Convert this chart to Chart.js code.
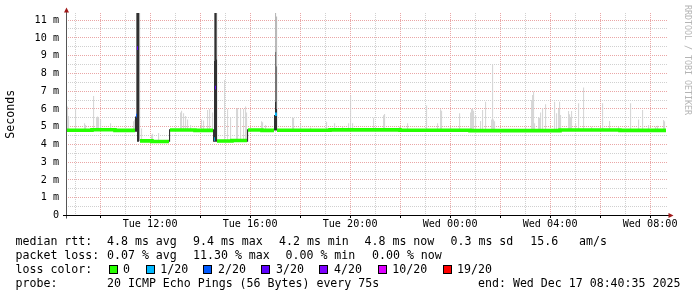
<!DOCTYPE html>
<html>
<head>
<meta charset="utf-8">
<title>SmokePing</title>
<script src="https://cdn.jsdelivr.net/npm/chart.js@4.4.1/dist/chart.umd.min.js"></script>
<style>
	html, body { margin: 0; padding: 0; background: #fff; }
	#wrap { position: relative; width: 697px; height: 297px; overflow: hidden; font-family: "DejaVu Sans Mono", monospace; }
	#chart { position: absolute; left: 0; top: 0; }
	.t { position: absolute; font-size: 11.6px; line-height: 14px; white-space: pre; color: #000; }
	.sw { position: absolute; width: 9px; height: 9px; box-sizing: border-box; border: 1px solid #000; }
	#mark { position: absolute; left: 682.5px; top: 5px; writing-mode: vertical-rl; font-size: 8.3px; color: #b4b4b4; white-space: pre; }
</style>
</head>
<body>
<div id="wrap">
	<canvas id="chart" width="697" height="297"></canvas>
	<div id="legend"></div>
	<div id="mark">RRDTOOL / TOBI OETIKER</div>
</div>
<script>
// time axis in hours since Tue 00:00
const startHour = 8 + 40 / 60 + 35 / 3600;
const endHour = startHour + 24;
const yMax = 11.4;

const xTickHours = [12, 16, 20, 24, 28, 32];
const xTickLabels = ["Tue 12:00", "Tue 16:00", "Tue 20:00", "Wed 00:00", "Wed 04:00", "Wed 08:00"];
const yTickLabels = ["0", "1 m", "2 m", "3 m", "4 m", "5 m", "6 m", "7 m", "8 m", "9 m", "10 m", "11 m"];

const lossLabels = ["0", "1/20", "2/20", "3/20", "4/20", "10/20", "19/20"];
const lossColors = ["#26ff00", "#00b8ff", "#0059ff", "#5e00ff", "#7e00ff", "#dd00ff", "#ff0000"];

// median rtt (ms), one flat piece per entry
const medianStart = [8.676, 9.676, 10.596, 11.436, 11.476, 11.596, 12.076, 12.796, 13.796, 14.556, 14.596,
	14.676, 15.276, 15.916, 16.476, 16.996, 17.076, 19.196, 21.996, 24.796, 28.396, 30.796];
const medianEnd = [9.676, 10.596, 11.396, 11.470, 11.516, 12.076, 12.756, 13.796, 14.516, 14.590, 14.636,
	15.276, 15.876, 16.476, 16.956, 17.070, 19.196, 21.996, 24.796, 28.396, 30.796, 32.636];
const medianMs = [4.80, 4.83, 4.79, 5.62, 9.42, 4.20, 4.17, 4.81, 4.79, 4.30, 7.20,
	4.19, 4.22, 4.81, 4.79, 5.70, 4.80, 4.82, 4.80, 4.78, 4.81, 4.79];
const medianLoss = [0, 0, 0, 2, 3, 0, 0, 0, 0, 1, 3,
	0, 0, 0, 0, 1, 0, 0, 0, 0, 0, 0];

// light smoke: top of the ping spread above the median
const lightHours = [8.70, 8.74, 9.02, 9.38, 9.42, 9.74, 9.86, 9.90, 9.94, 10.02, 10.42, 11.34, 11.38,
	11.66, 12.06, 12.10, 12.34,
	13.22, 13.26, 13.34, 13.42, 13.50, 13.62, 14.06, 14.14, 14.30, 14.38, 14.50,
	14.98, 15.10, 15.22, 15.46, 15.50, 15.62, 15.74, 15.82, 15.86,
	16.46, 16.50, 16.62,
	17.70, 17.74, 18.02, 18.42, 19.06, 19.38, 19.70, 19.94, 20.02, 20.10, 20.94, 21.34, 21.38, 21.98,
	22.30, 23.06, 23.50, 23.62, 23.66, 24.02, 24.38, 24.82, 24.86, 24.90, 24.94, 25.02, 25.22, 25.30,
	25.42, 25.66, 25.70, 25.74, 25.78, 27.02, 27.26, 27.30, 27.34, 27.38, 27.54, 27.58, 27.62, 27.70,
	27.82, 28.18, 28.26, 28.34, 28.38, 28.42, 28.74, 28.78, 28.82, 28.86, 29.02, 29.14, 29.34, 29.66,
	30.10, 30.38, 30.74, 31.22, 31.54, 31.70, 31.94, 32.22, 32.30, 32.54, 32.58];
const lightTop = [6.13, 5.6, 6.0, 5.2, 5.1, 6.73, 5.55, 5.57, 5.5, 5.4, 5.2, 5.3, 5.4,
	4.9, 4.54, 4.6, 4.65,
	5.8, 5.9, 5.75, 5.6, 5.4, 5.1, 5.4, 5.35, 5.94, 6.0, 5.8,
	7.63, 6.0, 5.5, 6.0, 6.05, 6.0, 6.0, 6.13, 5.8,
	5.3, 5.25, 5.1,
	5.5, 5.5, 5.15, 4.95, 5.28, 5.2, 5.0, 5.2, 6.75, 5.2, 5.51, 5.65, 5.72, 5.0,
	5.2, 6.19, 5.2, 5.98, 5.9, 4.95, 5.76, 5.8, 6.0, 6.02, 5.9, 5.66, 5.32, 5.94,
	6.41, 5.4, 8.52, 5.4, 5.3, 5.0, 6.5, 6.79, 6.98, 5.2, 5.5, 5.5, 5.8, 6.04,
	6.26, 6.41, 5.76, 6.0, 6.41, 5.66, 5.89, 5.7, 5.5, 5.89, 5.2, 6.32, 7.2, 5.0,
	6.32, 5.32, 5.0, 6.32, 5.4, 5.94, 5.1, 5.0, 5.05, 5.37, 5.3];

// dense smoke at the three rtt spikes
const coreHours = [11.42, 11.46, 11.50, 11.54, 12.78, 14.54, 14.58, 14.62, 14.66, 15.90, 16.98, 17.02, 17.06];
const coreLow = [4.72, 4.72, 4.15, 4.15, 4.15, 4.15, 4.15, 4.15, 4.15, 4.15, 4.78, 4.78, 4.78];
const coreHigh = [5.57, 5.60, 11.4, 11.4, 4.85, 4.85, 8.7, 11.4, 8.8, 4.85, 5.66, 6.4, 6.0];

const midHours = [11.46, 14.58, 14.66, 17.02, 17.06];
const midLow = [5.60, 8.7, 8.8, 6.4, 6.0];
const midHigh = [11.4, 11.4, 11.4, 9.2, 8.4];

const paleHours = [11.58, 17.02, 17.06];
const paleLow = [4.2, 9.2, 8.4];
const paleHigh = [11.4, 11.4, 11.2];

const rttStats = ["4.8 ms avg", "9.4 ms max", "4.2 ms min", "4.8 ms now", "0.3 ms sd", "15.6", "am/s"];
const lossStats = ["0.07 % avg", "11.30 % max", "0.00 % min", "0.00 % now"];
const probeText = "20 ICMP Echo Pings (56 Bytes) every 75s";
const endText = "end: Wed Dec 17 08:40:35 2025";

const majorGrid = "#eaa6a6";
const minorGrid = "#d0d0d0";
const axisFont = { family: "DejaVu Sans Mono", size: 10.15 };
const unitFont = { family: "DejaVu Sans Mono", size: 11.6 };

function medianAt(h) {
	const i = medianStart.findIndex((s, k) => h >= s && h < medianEnd[k]);
	return i >= 0 ? medianMs[i] : 4.8;
}

const medianData = [];
const medianPointLoss = [];
medianStart.forEach((s, i) => {
	medianData.push({ x: s, y: medianMs[i] }, { x: medianEnd[i], y: medianMs[i] });
	medianPointLoss.push(medianLoss[i], medianLoss[i]);
	if (i + 1 < medianStart.length && medianStart[i + 1] !== medianEnd[i]) {
		medianData.push({ x: medianEnd[i], y: null });
		medianPointLoss.push(0);
	}
});

const floating = (hours, low, high) => hours.map((h, i) => ({ x: h, y: [low[i], high[i]] }));
const lightData = lightHours.map((h, i) => ({ x: h, y: [medianAt(h), lightTop[i]] }));

const hourTicks = [];
for (let h = Math.ceil(startHour); h <= endHour; h++) hourTicks.push(h);
const halfTicks = [];
for (let v = 0; v <= 11; v += 0.5) halfTicks.push(v);

const barDefaults = { type: "bar", barThickness: 1, grouped: false, inflateAmount: 0, borderWidth: 0 };

// dotted rrdtool grid (one pixel on, one off): pink every 2 h / 1 ms, grey in between
const dottedGrid = {
	id: "dottedGrid",
	beforeDatasetsDraw(chart) {
		const { ctx, chartArea: a, scales } = chart;
		const left = Math.round(a.left);
		const right = Math.round(a.right);
		const top = Math.round(a.top);
		const bottom = Math.floor(a.bottom);
		ctx.save();
		halfTicks.forEach(v => {
			if (v === 0) return;
			const py = Math.floor(scales.y.getPixelForValue(v));
			ctx.fillStyle = Number.isInteger(v) ? majorGrid : minorGrid;
			for (let px = left + 1; px <= right; px += 2) ctx.fillRect(px, py, 1, 1);
		});
		hourTicks.forEach(h => {
			const px = Math.floor(scales.x.getPixelForValue(h));
			ctx.fillStyle = h % 2 === 0 ? majorGrid : minorGrid;
			for (let py = top; py < bottom; py += 2) ctx.fillRect(px, py, 1, 1);
		});
		ctx.restore();
	},
};

const axisArrows = {
	id: "axisArrows",
	afterDatasetsDraw(chart) {
		const { ctx, chartArea: a } = chart;
		const x0 = a.left - 0.5;
		const y0 = a.bottom;
		ctx.save();
		ctx.lineWidth = 1;
		ctx.strokeStyle = "#555";
		ctx.beginPath();
		ctx.moveTo(x0, y0 + 3);
		ctx.lineTo(x0, a.top - 1);
		ctx.stroke();
		ctx.strokeStyle = "#000";
		ctx.beginPath();
		ctx.moveTo(a.left - 4, y0);
		ctx.lineTo(a.right + 2, y0);
		ctx.stroke();
		// tick marks at the major vertical grid
		hourTicks.filter(h => h % 2 === 0).forEach(h => {
			const px = Math.floor(chart.scales.x.getPixelForValue(h)) + 0.5;
			ctx.beginPath();
			ctx.moveTo(px, y0);
			ctx.lineTo(px, y0 + 2.5);
			ctx.stroke();
		});
		ctx.fillStyle = "#a01818";
		ctx.beginPath();
		ctx.moveTo(x0, a.top - 5.5);
		ctx.lineTo(x0 - 2.5, a.top - 0.5);
		ctx.lineTo(x0 + 2.5, a.top - 0.5);
		ctx.closePath();
		ctx.fill();
		ctx.beginPath();
		ctx.moveTo(a.right + 6.5, y0);
		ctx.lineTo(a.right + 1.5, y0 - 2.5);
		ctx.lineTo(a.right + 1.5, y0 + 2.5);
		ctx.closePath();
		ctx.fill();
		ctx.restore();
	},
};

new Chart(document.getElementById("chart"), {
	type: "bar",
	data: {
		datasets: [
			{
				type: "line",
				label: "median rtt",
				data: medianData,
				borderColor: lossColors[0],
				borderWidth: 3.6,
				pointRadius: 0,
				tension: 0,
				spanGaps: false,
				segment: { borderColor: c => lossColors[medianPointLoss[c.p0DataIndex]] },
				order: 0,
			},
			{ ...barDefaults, label: "core", data: floating(coreHours, coreLow, coreHigh), backgroundColor: "#1e1e1e", order: 1 },
			{ ...barDefaults, label: "mid", data: floating(midHours, midLow, midHigh), backgroundColor: "#6a6a6a", order: 2 },
			{ ...barDefaults, label: "pale", data: floating(paleHours, paleLow, paleHigh), backgroundColor: "#b4b4b4", order: 3 },
			{ ...barDefaults, label: "smoke", data: lightData, backgroundColor: "#d4d4d4", order: 4 },
		],
	},
	options: {
		responsive: false,
		animation: false,
		devicePixelRatio: 1,
		events: [],
		layout: { padding: { top: 13, right: 30, bottom: 61.5, left: 0 } },
		plugins: { legend: { display: false }, tooltip: { enabled: false } },
		scales: {
			x: {
				type: "linear",
				min: startHour,
				max: endHour,
				offset: false,
				afterBuildTicks: s => { s.ticks = hourTicks.map(v => ({ value: v })); },
				afterFit: s => { s.height = 20; s.paddingLeft = 0; s.paddingRight = 0; },
				grid: { display: false, offset: false, drawTicks: false },
				border: { display: false },
				ticks: {
					autoSkip: false,
					maxRotation: 0,
					padding: 3,
					color: "#000",
					font: axisFont,
					callback: v => {
						const k = xTickHours.indexOf(v);
						return k >= 0 ? xTickLabels[k] : "";
					},
				},
			},
			y: {
				min: 0,
				max: yMax,
				afterBuildTicks: s => { s.ticks = halfTicks.map(v => ({ value: v })); },
				afterFit: s => { s.width = 67; s.paddingTop = 0; s.paddingBottom = 0; },
				grid: { display: false, drawTicks: false },
				border: { display: false },
				ticks: {
					padding: 8,
					color: "#000",
					font: axisFont,
					callback: v => (Number.isInteger(v) ? yTickLabels[v] : ""),
				},
				title: { display: true, text: "Seconds", color: "#000", font: unitFont, padding: { top: 4, bottom: 0 } },
			},
		},
	},
	plugins: [dottedGrid, axisArrows],
});

// legend rows under the graph
const legend = document.getElementById("legend");
function put(text, x, top) {
	const d = document.createElement("div");
	d.className = "t";
	d.style.left = x + "px";
	d.style.top = top + "px";
	d.textContent = text;
	legend.appendChild(d);
}
const rows = [233.5, 247.7, 261.7, 276];
put("median rtt:", 15.5, rows[0]);
[107, 193, 279, 364.5, 450.5, 530.3, 579].forEach((x, i) => put(rttStats[i], x, rows[0]));
put("packet loss:", 15.5, rows[1]);
[107, 193, 285.5, 372].forEach((x, i) => put(lossStats[i], x, rows[1]));
put("loss color:", 15.5, rows[2]);
const swatchX = [108.5, 145.5, 203, 261, 319, 378, 442.5];
const swatchTextX = [123, 160.3, 218, 276, 334, 392.3, 457];
lossColors.forEach((c, i) => {
	const s = document.createElement("div");
	s.className = "sw";
	s.style.left = swatchX[i] + "px";
	s.style.top = "264.5px";
	s.style.background = c;
	legend.appendChild(s);
	put(lossLabels[i], swatchTextX[i], rows[2]);
});
put("probe:", 15.5, rows[3]);
put(probeText, 107, rows[3]);
put(endText, 478, rows[3]);
</script>
</body>
</html>
